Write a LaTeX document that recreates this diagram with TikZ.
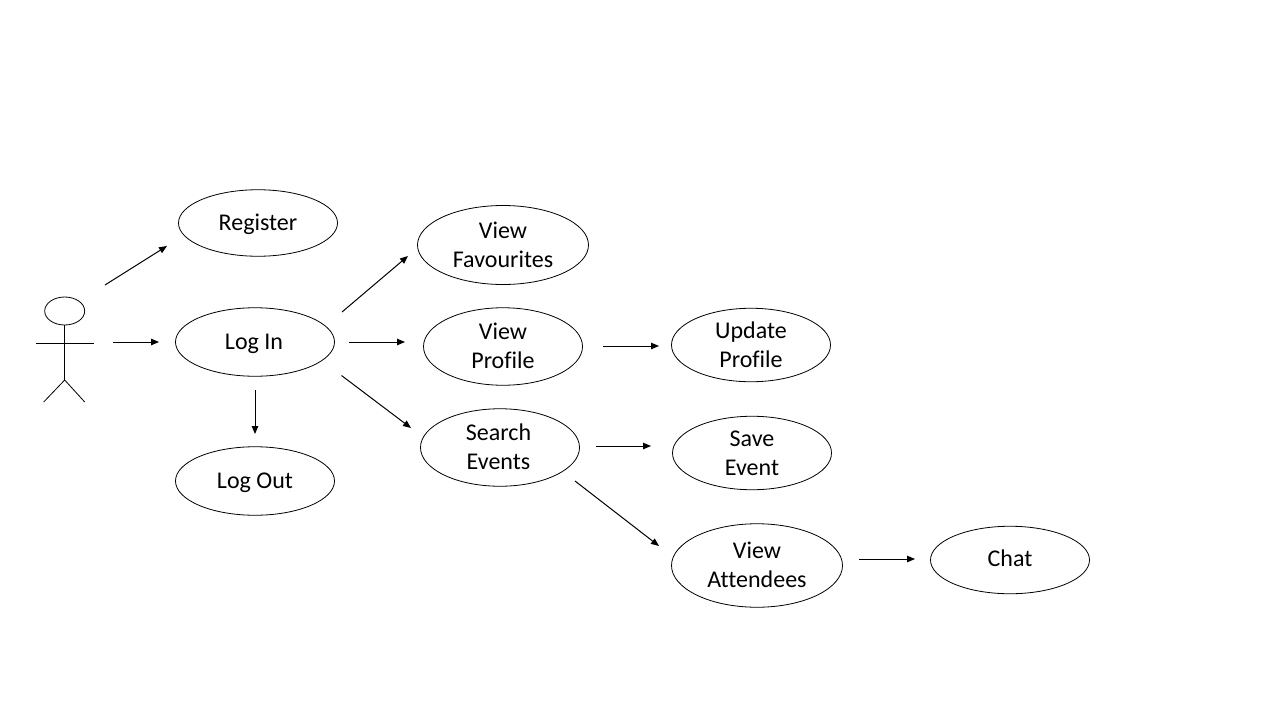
\documentclass[tikz,border=0pt]{standalone}
\usepackage{fontspec}
\setmainfont[Ligatures=NoCommon]{Carlito}
\usetikzlibrary{shapes.geometric,arrows.meta,calc}
\newcommand{\dropby}[1]{\rule[-#1pt]{0pt}{#1pt}}
\tikzset{
  x=1pt,y=-1pt,
  uc/.style={draw=black,ellipse,line width=0.8pt,inner sep=0pt,align=center,fill=white,
    font=\fontsize{24}{29}\selectfont,text=black},
  single/.style={text height=20pt,text depth=6pt},
  flow/.style={draw=black,line width=1pt,-{Triangle[length=8pt,width=6.5pt]}},
  stick/.style={draw=black,line width=0.8pt},
  mk/.style 2 args={minimum width=#1pt,minimum height=#2pt}
}
\begin{document}
\begin{tikzpicture}
\useasboundingbox[fill=white] (0,0) rectangle (1280,720);
\node[uc,single,mk={159}{66.5}] (register) at (258,223) {Register};
\node[uc,single,mk={159}{68.5}] (login) at (255,342) {Log In\hspace*{2pt}};
\node[uc,single,mk={159}{68.5}] (logout) at (255,481) {Log Out};
\node[uc,mk={171}{79}] (favs) at (503,245) {View\\Favourites};
\node[uc,mk={159}{77.5}] (profile) at (503,346.5) {View\\Profile\dropby{2}};
\node[uc,mk={159}{77.5}] (search) at (500,447.5) {Search\hspace*{3pt}\\Events\hspace*{3pt}\dropby{2}};
\node[uc,mk={159}{73.5}] (update) at (751,345) {Update\\Profile};
\node[uc,mk={159}{73.5}] (save) at (752,453) {Save\\Event};
\node[uc,mk={171}{83.5}] (attendees) at (757,565.5) {View\\Attendees\dropby{2}};
\node[uc,text height=19.5pt,text depth=6.5pt,mk={159}{67.5}] (chat) at (1010,560) {Chat};
% actor
\node[draw=black,ellipse,line width=0.8pt,inner sep=0pt,minimum width=40pt,minimum height=28pt] (head) at (64.7,311) {};
\coordinate (hip) at (64.7,380);
\coordinate (shoulder) at (64.7,343);
\draw[stick] (head.south) -- (hip);
\draw[stick] ($(shoulder)+(-29,0)$) -- ($(shoulder)+(29,0)$);
\draw[stick] ($(hip)+(-21,22)$) -- (hip) -- ($(hip)+(20,22)$);
% connectors
\draw[flow] ($(shoulder)+(40.3,-58)$) -- ($(register)+(-91,23)$);
\draw[flow] ($(shoulder)+(48.3,-1)$) -- ($(login)+(-96,0)$);
\draw[flow] ($(login)+(87,-30)$) -- ($(favs)+(-95,11)$);
\draw[flow] ($(login)+(94,0)$) -- ($(profile)+(-98,-4.5)$);
\draw[flow] ($(login)+(86.5,33.5)$) -- ($(search)+(-89,-19.5)$);
\draw[flow] ($(login)+(0,48)$) -- ($(logout)+(0,-47)$);
\draw[flow] ($(profile)+(100,-0.5)$) -- ($(update)+(-92,1)$);
\draw[flow] ($(search)+(96,-1.5)$) -- ($(save)+(-101,-7)$);
\draw[flow] ($(search)+(75,33.5)$) -- ($(attendees)+(-98,-19.5)$);
\draw[flow] ($(attendees)+(102,-6.5)$) -- ($(chat)+(-95,-1)$);
\end{tikzpicture}
\end{document}
